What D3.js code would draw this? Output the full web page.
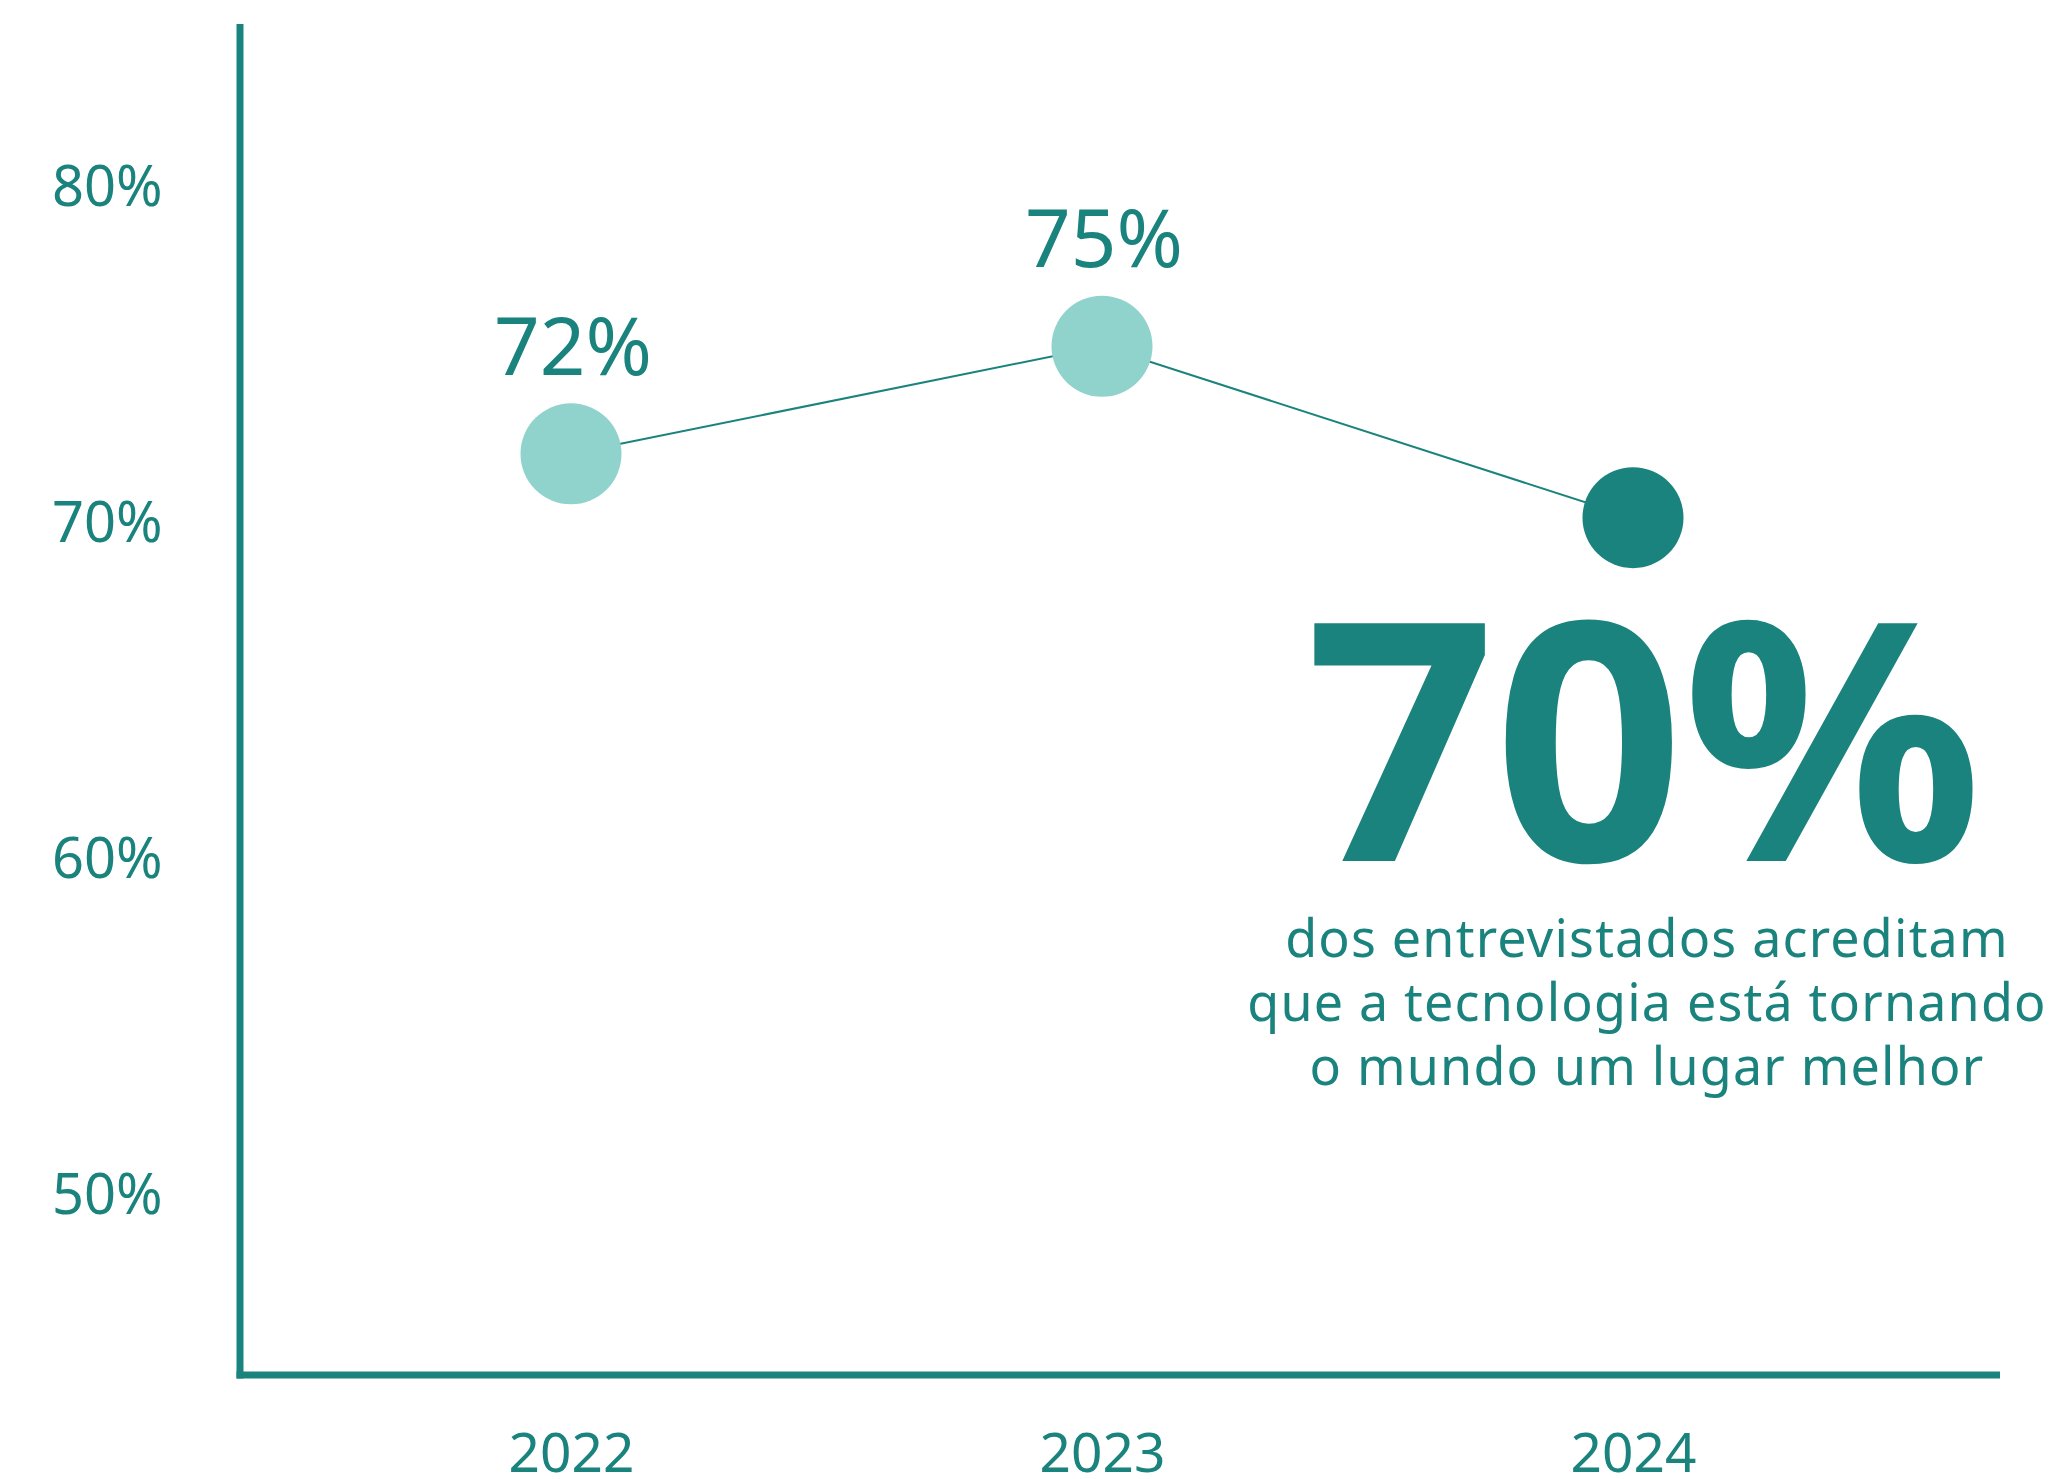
<!DOCTYPE html>
<html>
<head>
<meta charset="utf-8">
<script src="https://cdn.jsdelivr.net/npm/d3@7"></script>
<style>
	html, body { margin: 0; padding: 0; background: #fff; }
	svg { display: block; font-family: 'Noto Sans', sans-serif; }
</style>
</head>
<body>
<svg id="chart" width="2061" height="1479"></svg>
<script>
const years = ['2022', '2023', '2024'];
const values = [72, 75.2, 70.1]; // labels are rounded
const pointColors = ['#90d3cc', '#90d3cc', '#1a837d'];
const yTicks = [50, 60, 70, 80];
const highlight = '70%';
const highlightText = [
	'dos entrevistados acreditam',
	'que a tecnologia está tornando',
	'o mundo um lugar melhor'
];

const teal = '#1a837d';

const svg = d3.select('#chart');

//frame of the plot
const //
	frameLeft = 240,
	frameBottom = 1375,
	frameTop = 24,
	frameRight = 2000;

const x = d3.scalePoint().domain(years).range([571, 1633]);
const y = d3.scaleLinear().domain([70, 80]).range([521, 185]);

// y tick labels
const yAxis = svg.append('g')
	.attr('transform', `translate(${frameLeft},0)`)
	.call(d3.axisLeft(y).tickValues(yTicks).tickFormat(d => d + '%').tickSize(0));
yAxis.select('.domain').remove();
yAxis.selectAll('text')
	.attr('x', -188)
	.attr('dy', '0.36em')
	.attr('text-anchor', 'start')
	.attr('fill', teal)
	.style('font-size', '56px')
	.style('font-family', "'Noto Sans', sans-serif");

// x tick labels
const xAxis = svg.append('g')
	.attr('transform', `translate(0,${frameBottom})`)
	.call(d3.axisBottom(x).tickSize(0));
xAxis.select('.domain').remove();
xAxis.selectAll('text')
	.attr('y', 97)
	.attr('dy', 0)
	.attr('fill', teal)
	.style('font-size', '55px')
	.style('font-family', "'Noto Sans', sans-serif");

// axis lines
svg.append('line')
	.attr('x1', frameLeft).attr('x2', frameLeft)
	.attr('y1', frameTop).attr('y2', frameBottom + 3.5)
	.attr('stroke', teal).attr('stroke-width', 7);
svg.append('line')
	.attr('x1', frameLeft - 3.5).attr('x2', frameRight)
	.attr('y1', frameBottom).attr('y2', frameBottom)
	.attr('stroke', teal).attr('stroke-width', 7);

const data = years.map((yr, i) => ({year: yr, value: values[i], color: pointColors[i]}));

// connecting line
svg.append('path')
	.datum(data)
	.attr('d', d3.line().x(d => x(d.year)).y(d => y(d.value)))
	.attr('fill', 'none')
	.attr('stroke', teal)
	.attr('stroke-width', 2);

svg.selectAll('circle.pt')
	.data(data)
	.enter()
	.append('circle')
	.attr('class', 'pt')
	.attr('cx', d => x(d.year))
	.attr('cy', d => y(d.value))
	.attr('r', 50.5)
	.attr('fill', d => d.color);

// value labels, not on the last point
svg.selectAll('text.val')
	.data(data.slice(0, 2))
	.enter()
	.append('text')
	.attr('class', 'val')
	.attr('x', d => x(d.year) + 2)
	.attr('y', d => y(d.value) - 79)
	.attr('text-anchor', 'middle')
	.attr('fill', teal)
	.style('font-size', '80px')
	.text(d => Math.round(d.value) + '%');

// big callout
const calloutX = 1647;
svg.append('text')
	.attr('x', 1643)
	.attr('y', 861)
	.attr('text-anchor', 'middle')
	.attr('fill', teal)
	.style('font-size', '333px')
	.style('font-weight', 700)
	.style('letter-spacing', '-2px')
	.text(highlight);

svg.append('g')
	.selectAll('text')
	.data(highlightText)
	.enter()
	.append('text')
	.attr('x', calloutX)
	.attr('y', (d, i) => 957 + i * 64)
	.attr('text-anchor', 'middle')
	.attr('fill', teal)
	.style('font-size', '52px')
	.style('letter-spacing', '1.2px')
	.text(d => d);
</script>
</body>
</html>
